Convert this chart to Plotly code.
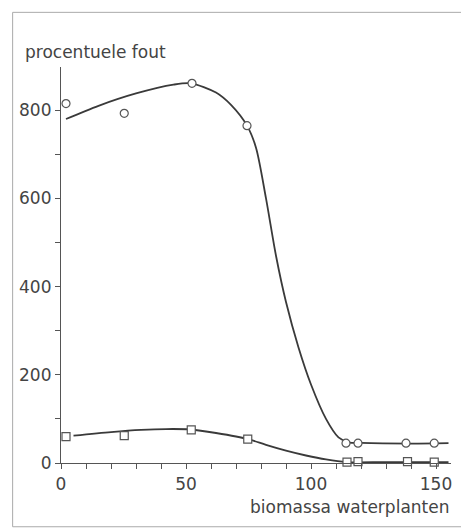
import plotly.graph_objects as go

# measured points
circle_x = [2, 25.3, 52.4, 74.4, 114, 118.8, 138, 149.3]
circle_y = [815, 793, 861, 765, 45, 45, 45, 45]
square_x = [2, 25.3, 52.1, 74.7, 114.4, 118.8, 138.6, 149.3]
square_y = [60, 62, 75, 54, 2, 3, 3, 2]

# fitted curves (hand drawn in the original)
fit_circle_x = [2, 15, 30, 45, 52, 62, 68, 74.4, 78, 82, 86, 90, 95, 100, 106, 111, 115, 120, 140, 155]
fit_circle_y = [780, 810, 838, 858, 861, 840, 812, 765, 715, 600, 470, 365, 262, 178, 100, 58, 47, 45.5, 44, 45]
fit_square_x = [5, 20, 32, 42, 52, 62, 75, 82, 90, 98, 106, 114, 130, 155]
fit_square_y = [62, 70, 75, 77, 76, 68, 54, 41, 28, 17, 8, 2, 2, 2]

x_ticks = [0, 50, 100, 150]
y_ticks = [0, 200, 400, 600, 800]

ink = "#3a3a3a"
font_family = "DejaVu Sans"

fig = go.Figure()
fig.add_trace(go.Scatter(x=fit_circle_x, y=fit_circle_y, mode="lines",
                         line=dict(color=ink, width=1.8, shape="spline", smoothing=0.8),
                         hoverinfo="skip"))
fig.add_trace(go.Scatter(x=fit_square_x, y=fit_square_y, mode="lines",
                         line=dict(color=ink, width=1.8, shape="spline", smoothing=0.8),
                         hoverinfo="skip"))
fig.add_trace(go.Scatter(x=circle_x, y=circle_y, mode="markers",
                         marker=dict(symbol="circle", size=8, color="white",
                                     line=dict(color="#555", width=1.2)),
                         cliponaxis=False))
fig.add_trace(go.Scatter(x=square_x, y=square_y, mode="markers",
                         marker=dict(symbol="square", size=8, color="white",
                                     line=dict(color="#555", width=1.2)),
                         cliponaxis=False))

fig.update_layout(
    width=461, height=530,
    margin=dict(l=61, r=10, t=67, b=67),
    paper_bgcolor="white", plot_bgcolor="white",
    showlegend=False,
    font=dict(family=font_family, size=16, color="#444"),
    xaxis=dict(range=[0, 156], showgrid=False, zeroline=False,
               showline=True, linecolor="#555", linewidth=1.2,
               tickmode="array", tickvals=x_ticks, ticks="outside",
               ticklen=5, tickcolor="#555",
               minor=dict(dtick=10, ticks="outside", ticklen=5, tickcolor="#555", showgrid=False),
               tickfont=dict(size=17)),
    yaxis=dict(range=[0, 898], showgrid=False, zeroline=False,
               showline=True, linecolor="#555", linewidth=1.2,
               tickmode="array", tickvals=y_ticks, ticks="outside",
               ticklen=5, tickcolor="#555",
               minor=dict(dtick=100, ticks="outside", ticklen=5, tickcolor="#555", showgrid=False),
               tickfont=dict(size=17)),
    annotations=[
        dict(text="procentuele fout", xref="paper", yref="paper",
             x=-0.097, y=1.038, xanchor="left", yanchor="middle",
             showarrow=False, font=dict(size=17, color="#444")),
        dict(text="biomassa waterplanten", xref="paper", yref="paper",
             x=1.0, y=-0.111, xanchor="right", yanchor="middle",
             showarrow=False, font=dict(size=17, color="#444")),
    ],
    shapes=[
        dict(type="line", xref="paper", yref="paper", x0=-0.124, x1=1.1,
             y0=1.138, y1=1.138, line=dict(color="#aaa", width=1)),
        dict(type="line", xref="paper", yref="paper", x0=-0.124, x1=-0.124,
             y0=-0.161, y1=1.138, line=dict(color="#aaa", width=1)),
        dict(type="line", xref="paper", yref="paper", x0=-0.124, x1=1.1,
             y0=-0.161, y1=-0.161, line=dict(color="#aaa", width=1)),
    ],
)

fig.write_html("out.html", config={"displayModeBar": False},
               post_script="document.body.style.margin='0px';document.body.style.overflow='hidden';")
